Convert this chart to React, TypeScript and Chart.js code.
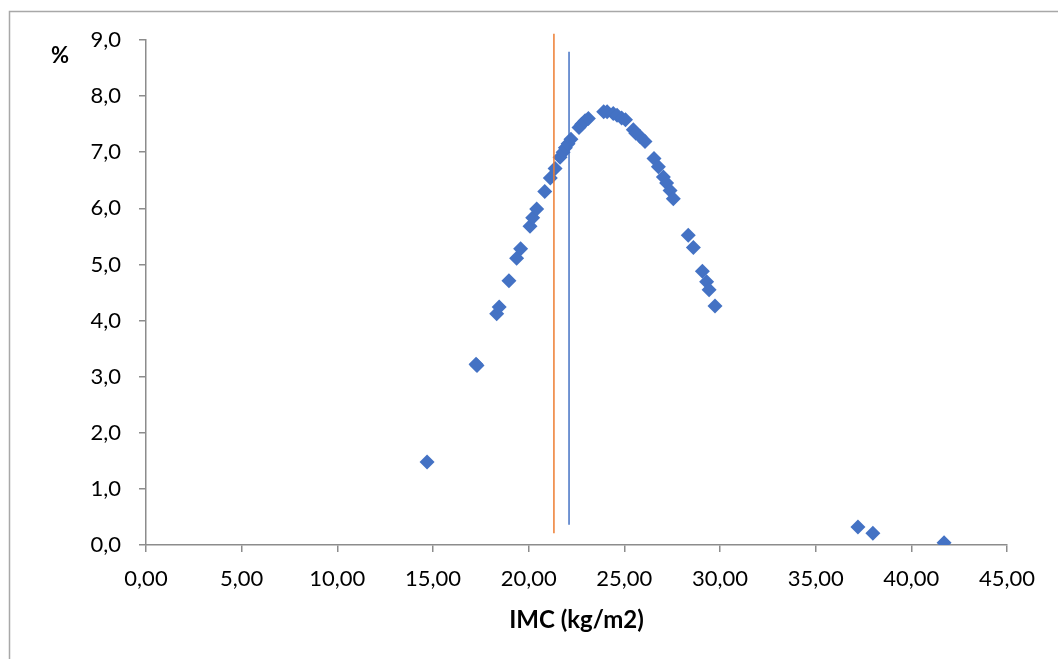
import React, { useEffect, useRef } from "react";
import { Chart, registerables } from "chart.js";

Chart.register(...registerables);

const imcValues = [
  14.69, 17.25, 17.3, 18.33, 18.46, 18.97, 19.37, 19.58, 20.07, 20.21, 20.42, 20.84,
  21.13, 21.38, 21.64, 21.8, 21.92, 22.06, 22.21, 22.63, 22.77, 22.95, 23.12, 23.92,
  24.1, 24.42, 24.62, 24.86, 25.06, 25.47, 25.6, 25.82, 26.08, 26.55, 26.78, 27.04,
  27.21, 27.39, 27.56, 28.34, 28.61, 29.08, 29.3, 29.43, 29.74, 37.21, 37.99, 41.71,
];
const pctValues = [
  1.48, 3.22, 3.2, 4.12, 4.24, 4.71, 5.11, 5.28, 5.68, 5.83, 5.99, 6.3,
  6.54, 6.71, 6.91, 7.0, 7.08, 7.15, 7.23, 7.44, 7.5, 7.56, 7.6, 7.72,
  7.72, 7.69, 7.66, 7.61, 7.58, 7.4, 7.34, 7.28, 7.19, 6.89, 6.74, 6.56,
  6.45, 6.32, 6.17, 5.52, 5.3, 4.88, 4.69, 4.55, 4.26, 0.32, 0.21, 0.04,
];

const orangeLineX = [21.32, 21.32];
const orangeLineY = [0.21, 9.11];
const blueLineX = [22.11, 22.11];
const blueLineY = [0.36, 8.79];

const xTickLabels = ["0,00", "5,00", "10,00", "15,00", "20,00", "25,00", "30,00", "35,00", "40,00", "45,00"];
const yTickLabels = ["0,0", "1,0", "2,0", "3,0", "4,0", "5,0", "6,0", "7,0", "8,0", "9,0"];

const xTitle = "IMC (kg/m2)";
const yTitle = "%";

const FONT = "Lato, 'Open Sans', sans-serif";
const AXIS_COLOR = "#8c8c8c";

const overlayPlugin = {
  id: "overlay",
  afterDraw(chart: any) {
    const ctx = chart.ctx;
    const ca = chart.chartArea;
    ctx.save();
    ctx.strokeStyle = "#a8a8a8";
    ctx.lineWidth = 1.5;
    ctx.beginPath();
    ctx.moveTo(9.5, chart.height);
    ctx.lineTo(9.5, 11.5);
    ctx.lineTo(chart.width, 11.5);
    ctx.stroke();
    ctx.fillStyle = "#000";
    ctx.textAlign = "center";
    ctx.textBaseline = "middle";
    ctx.font = `bold 22px ${FONT}`;
    ctx.fillText(yTitle, 60, 56);
    ctx.font = `bold 24px ${FONT}`;
    ctx.fillText(xTitle, (ca.left + ca.right) / 2, 620);
    ctx.restore();
  },
};

export default function App() {
  const ref = useRef<HTMLCanvasElement | null>(null);
  useEffect(() => {
    if (!ref.current) return;
    const chart = new Chart(ref.current, {
      type: "scatter",
      data: {
        datasets: [
          {
            type: "line",
            data: orangeLineX.map((x, i) => ({ x, y: orangeLineY[i] })),
            borderColor: "#ED7D31",
            borderWidth: 1.5,
            pointRadius: 0,
            showLine: true,
            clip: false,
          } as any,
          {
            type: "line",
            data: blueLineX.map((x, i) => ({ x, y: blueLineY[i] })),
            borderColor: "#4472C4",
            borderWidth: 1.5,
            pointRadius: 0,
            showLine: true,
            clip: false,
          } as any,
          {
            data: imcValues.map((x, i) => ({ x, y: pctValues[i] })),
            pointStyle: "rectRot",
            pointRadius: 7.5,
            backgroundColor: "#4472C4",
            borderColor: "#4472C4",
            borderWidth: 0,
          },
        ],
      },
      options: {
        responsive: false,
        animation: false,
        devicePixelRatio: 1,
        layout: { padding: { top: 40, right: 51, left: 0, bottom: 0 } },
        plugins: { legend: { display: false }, tooltip: { enabled: false } },
        scales: {
          x: {
            type: "linear",
            min: 0,
            max: 45,
            afterFit: (s: any) => {
              s.height = 114;
            },
            ticks: {
              stepSize: 5,
              padding: 14,
              color: "#000",
              font: { family: FONT, size: 22 },
              callback: (_v: any, i: number) => xTickLabels[i],
            },
            grid: { drawOnChartArea: false, tickLength: 7, color: AXIS_COLOR, lineWidth: 1.5 },
            border: { color: AXIS_COLOR, width: 1.5 },
          },
          y: {
            type: "linear",
            min: 0,
            max: 9,
            afterFit: (s: any) => {
              s.width = 146;
            },
            ticks: {
              stepSize: 1,
              padding: 18,
              color: "#000",
              font: { family: FONT, size: 22 },
              callback: (_v: any, i: number) => yTickLabels[i],
            },
            grid: { drawOnChartArea: false, tickLength: 7, color: AXIS_COLOR, lineWidth: 1.5 },
            border: { color: AXIS_COLOR, width: 1.5 },
          },
        },
      },
      plugins: [overlayPlugin],
    });
    return () => chart.destroy();
  }, []);
  return (
    <div style={{ position: "fixed", left: 0, top: 0, width: 1058, height: 659, background: "#fff" }}>
      <canvas ref={ref} width={1058} height={659} />
    </div>
  );
}
